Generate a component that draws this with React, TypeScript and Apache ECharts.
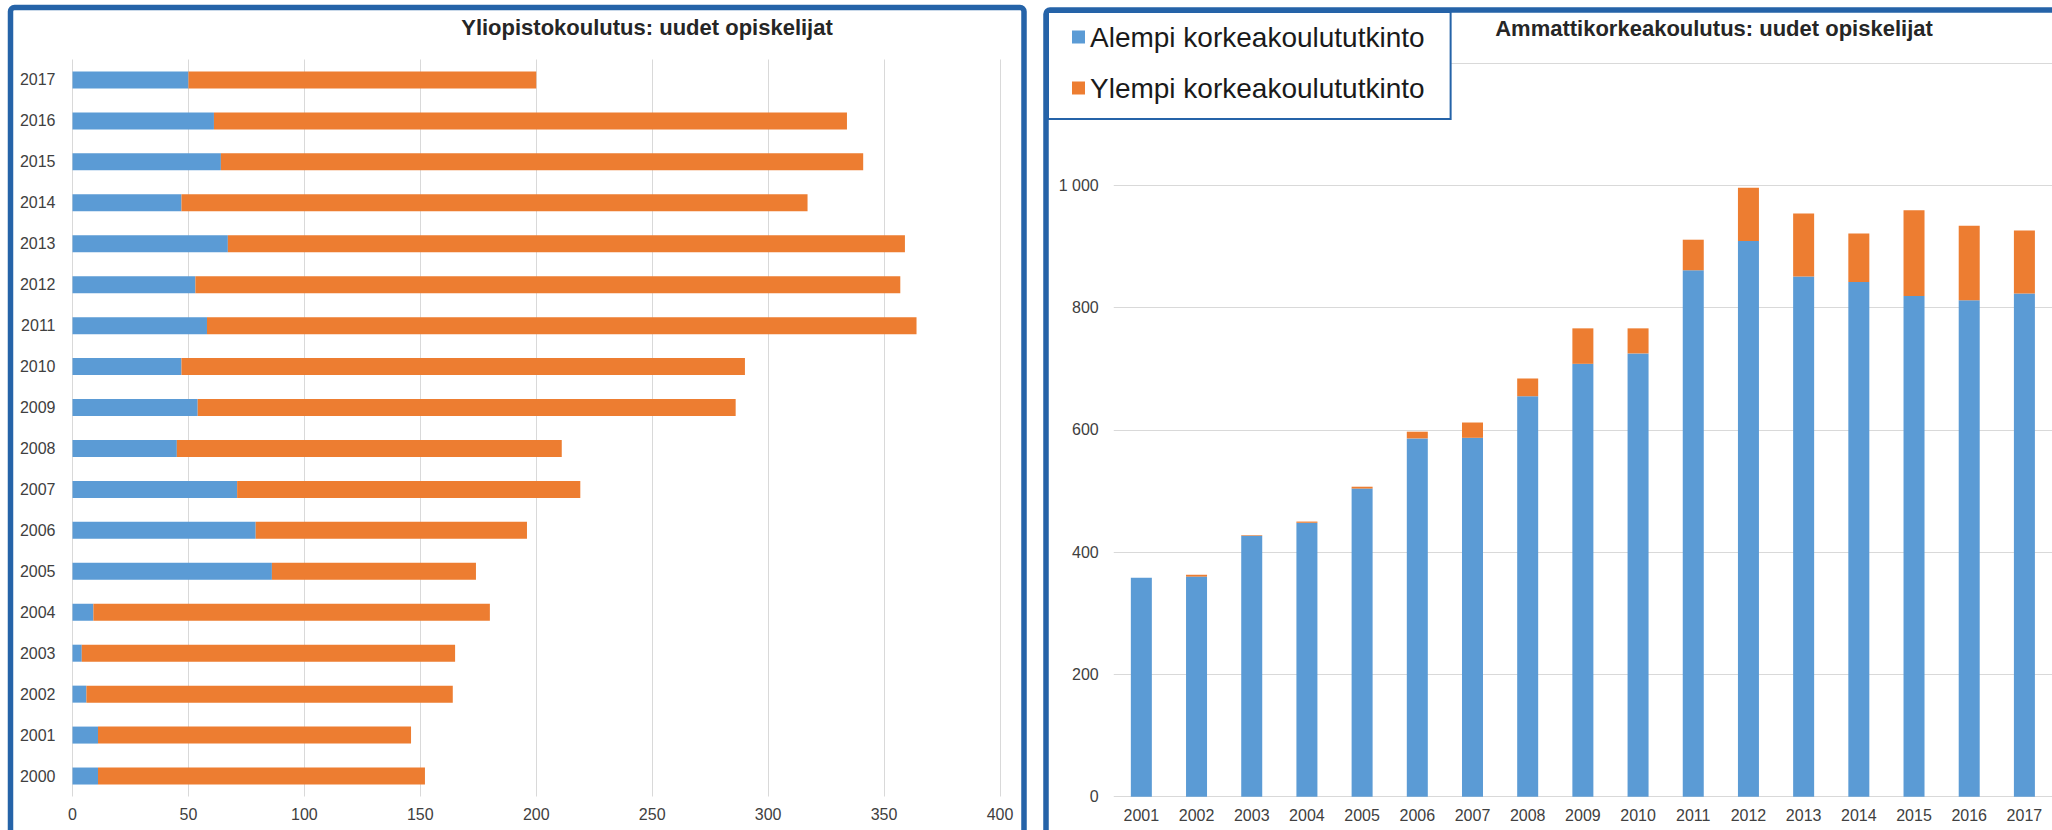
import React, { useEffect, useRef } from 'react';
import * as echarts from 'echarts';

// Yliopistokoulutus (left, horizontal bars), years bottom -> top
const uniYears = ['2000', '2001', '2002', '2003', '2004', '2005', '2006', '2007', '2008', '2009', '2010', '2011', '2012', '2013', '2014', '2015', '2016', '2017'];
const uniLower = [11, 11, 6, 4, 9, 86, 79, 71, 45, 54, 47, 58, 53, 67, 47, 64, 61, 50];
const uniUpper = [141, 135, 158, 161, 171, 88, 117, 148, 166, 232, 243, 306, 304, 292, 270, 277, 273, 150];

// Ammattikorkeakoulutus (right, vertical bars)
const amkYears = ['2001', '2002', '2003', '2004', '2005', '2006', '2007', '2008', '2009', '2010', '2011', '2012', '2013', '2014', '2015', '2016', '2017'];
const amkLower = [358, 360, 427, 448, 504, 586, 587, 655, 708, 725, 861, 909, 851, 842, 819, 812, 823];
const amkUpper = [0, 3, 1, 2, 3, 11, 25, 29, 58, 41, 50, 87, 103, 79, 140, 122, 103];

const seriesNames = ['Alempi korkeakoulututkinto', 'Ylempi korkeakoulututkinto'];
const leftTitle = 'Yliopistokoulutus: uudet opiskelijat';
const rightTitle = 'Ammattikorkeakoulutus: uudet opiskelijat';

const BLUE = '#5b9bd5';
const ORANGE = '#ed7d31';
const FRAME = '#2563a8';
const GRID = '#d9d9d9';
const LABEL = '#404040';
const FONT = '"Liberation Sans", Arial, sans-serif';

const fmt = (v: number) => String(v).replace(/\B(?=(\d{3})+(?!\d))/g, ' ');

export default function App() {
  const ref = useRef<HTMLDivElement>(null);

  useEffect(() => {
    const chart = echarts.init(ref.current!, null, { renderer: 'svg' });
    chart.setOption({
      animation: false,
      backgroundColor: '#ffffff',
      textStyle: { fontFamily: FONT },
      legend: {
        data: seriesNames,
        orient: 'vertical',
        left: 1048,
        top: 12,
        padding: [10, 26, 16, 24],
        itemGap: 21,
        itemWidth: 13,
        itemHeight: 13,
        icon: 'rect',
        selectedMode: false,
        backgroundColor: '#ffffff',
        borderColor: FRAME,
        borderWidth: 2,
        z: 20,
        textStyle: { fontSize: 28, lineHeight: 30, color: '#1a1a1a', fontFamily: FONT },
      },
      grid: [
        { left: 72.5, top: 59.5, width: 927.5, height: 737 },
        { left: 1113.75, top: 63, width: 950.3, height: 733.7 },
      ],
      xAxis: [
        {
          type: 'value', gridIndex: 0, min: 0, max: 400, interval: 50,
          axisLine: { show: false }, axisTick: { show: false },
          splitLine: { show: true, lineStyle: { color: GRID, width: 1 } },
          axisLabel: { fontSize: 16, color: LABEL, margin: 10, fontFamily: FONT },
        },
        {
          type: 'category', gridIndex: 1, data: amkYears,
          axisLine: { show: false }, axisTick: { show: false },
          axisLabel: { fontSize: 16, color: LABEL, margin: 11, fontFamily: FONT },
        },
      ],
      yAxis: [
        {
          type: 'category', gridIndex: 0, data: uniYears,
          axisLine: { show: false }, axisTick: { show: false },
          axisLabel: { fontSize: 16, color: LABEL, margin: 17, fontFamily: FONT },
        },
        {
          type: 'value', gridIndex: 1, min: 0, max: 1200, interval: 200,
          axisLine: { show: false }, axisTick: { show: false },
          splitLine: { show: true, lineStyle: { color: GRID, width: 1 } },
          axisLabel: {
            fontSize: 16, color: LABEL, margin: 15, fontFamily: FONT,
            formatter: (v: number) => (v === 1200 ? '' : fmt(v)),
          },
        },
      ],
      series: [
        { name: seriesNames[0], type: 'bar', xAxisIndex: 0, yAxisIndex: 0, stack: 'uni', barWidth: 17, itemStyle: { color: BLUE }, data: uniLower },
        { name: seriesNames[1], type: 'bar', xAxisIndex: 0, yAxisIndex: 0, stack: 'uni', barWidth: 17, itemStyle: { color: ORANGE }, data: uniUpper },
        { name: seriesNames[0], type: 'bar', xAxisIndex: 1, yAxisIndex: 1, stack: 'amk', barWidth: 21, itemStyle: { color: BLUE }, data: amkLower },
        { name: seriesNames[1], type: 'bar', xAxisIndex: 1, yAxisIndex: 1, stack: 'amk', barWidth: 21, itemStyle: { color: ORANGE }, data: amkUpper },
      ],
      graphic: [
        {
          type: 'text', x: 647, y: 27.5, z: 30,
          style: { text: leftTitle, font: `bold 22px ${FONT}`, fill: '#262626', textAlign: 'center', textVerticalAlign: 'middle' },
        },
        {
          type: 'text', x: 1714, y: 28.5, z: 30,
          style: { text: rightTitle, font: `bold 22px ${FONT}`, fill: '#262626', textAlign: 'center', textVerticalAlign: 'middle' },
        },
        {
          type: 'rect', z: 40, silent: true,
          shape: { x: 10.5, y: 7.5, width: 1013.5, height: 900, r: 4 },
          style: { fill: 'none', stroke: FRAME, lineWidth: 5.5 },
        },
        {
          type: 'rect', z: 40, silent: true,
          shape: { x: 1046, y: 10, width: 1200, height: 900, r: 4 },
          style: { fill: 'none', stroke: FRAME, lineWidth: 5.5 },
        },
      ],
    });
    return () => chart.dispose();
  }, []);

  return (
    <div
      ref={ref}
      style={{ position: 'absolute', left: 0, top: 0, width: 2052, height: 830, background: '#fff' }}
    />
  );
}
